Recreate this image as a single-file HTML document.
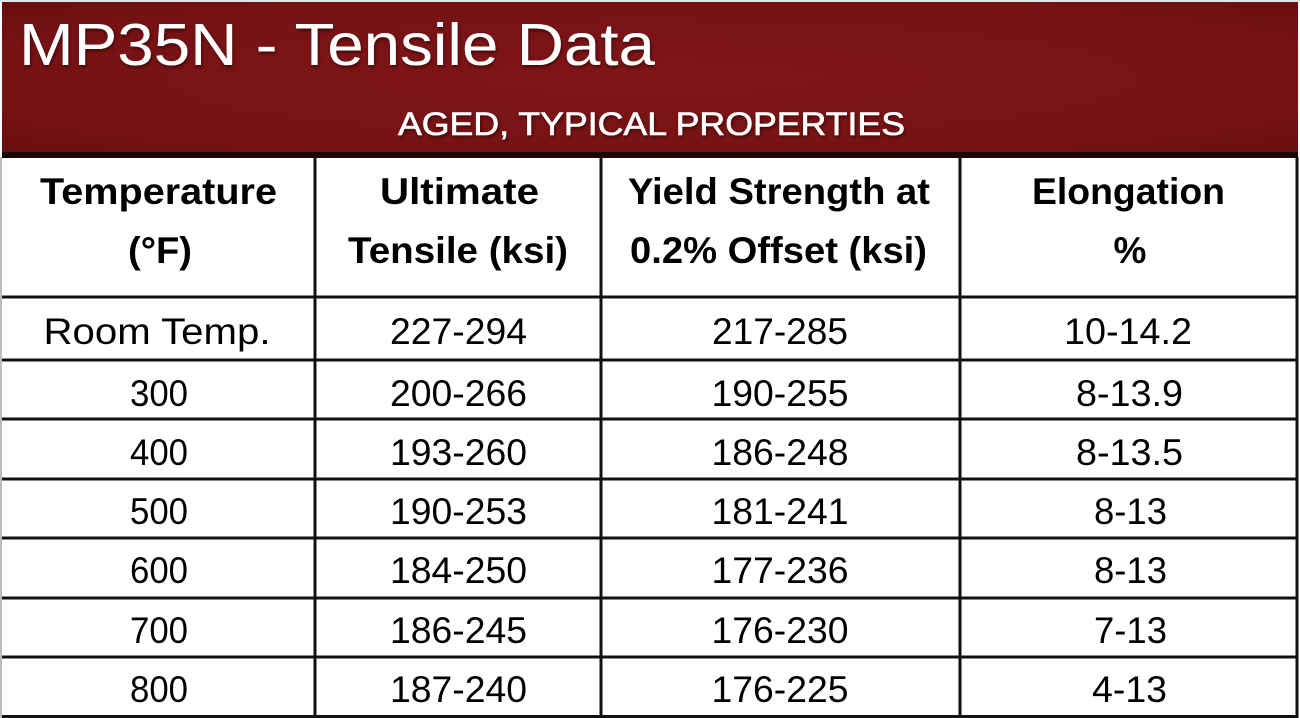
<!DOCTYPE html>
<html><head><meta charset="utf-8"><style>
html,body{margin:0;padding:0;background:#fff;}
svg{display:block;}
text{font-family:"Liberation Sans",sans-serif;}
</style></head><body>
<svg width="1300" height="718" viewBox="0 0 1300 718" xmlns="http://www.w3.org/2000/svg">
<defs>
<radialGradient id="rg" cx="0.5" cy="0.5" r="0.75">
<stop offset="0" stop-color="#7f1518"/>
<stop offset="0.7" stop-color="#761214"/>
<stop offset="1" stop-color="#650d0f"/>
</radialGradient>
<filter id="sh" x="-5%" y="-20%" width="110%" height="140%">
<feDropShadow dx="1" dy="2" stdDeviation="1.5" flood-color="#2a0000" flood-opacity="0.7"/>
</filter>
</defs>
<rect x="0" y="0" width="1300" height="718" fill="#fff"/>
<rect x="0" y="0" width="1300" height="2" fill="#e4e4e4"/>
<rect x="2" y="2" width="1296" height="152" fill="url(#rg)"/>
<rect x="2" y="152" width="1296" height="6" fill="#1a0506"/>
<g filter="url(#sh)">
<text x="337" y="65" fill="#fff" font-size="59" text-anchor="middle" textLength="636" lengthAdjust="spacingAndGlyphs">MP35N - Tensile Data</text>
<text x="651.5" y="135" fill="#fff" stroke="#fff" stroke-width="0.6" font-size="32" text-anchor="middle" textLength="507" lengthAdjust="spacingAndGlyphs">AGED, TYPICAL PROPERTIES</text>
</g>
<g stroke="#111" stroke-width="3">
<line x1="2" y1="297" x2="1298" y2="297"/>
<line x1="2" y1="360" x2="1298" y2="360"/>
<line x1="2" y1="419" x2="1298" y2="419"/>
<line x1="2" y1="479" x2="1298" y2="479"/>
<line x1="2" y1="538" x2="1298" y2="538"/>
<line x1="2" y1="598" x2="1298" y2="598"/>
<line x1="2" y1="657" x2="1298" y2="657"/>
<line x1="2" y1="716.5" x2="1298" y2="716.5"/>
<line x1="315" y1="157" x2="315" y2="718"/>
<line x1="601" y1="157" x2="601" y2="718"/>
<line x1="960" y1="157" x2="960" y2="718"/>
<line x1="1297" y1="157" x2="1297" y2="718"/>
</g>
<line x1="1" y1="157" x2="1" y2="718" stroke="#bbb" stroke-width="2"/>
<g fill="#000" font-size="37" font-weight="bold" text-anchor="middle">
<text x="158.5" y="204" textLength="237" lengthAdjust="spacingAndGlyphs">Temperature</text>
<text x="160" y="263" textLength="64" lengthAdjust="spacingAndGlyphs">(°F)</text>
<text x="459.5" y="204" textLength="159" lengthAdjust="spacingAndGlyphs">Ultimate</text>
<text x="458" y="263" textLength="220" lengthAdjust="spacingAndGlyphs">Tensile (ksi)</text>
<text x="779" y="204" textLength="302" lengthAdjust="spacingAndGlyphs">Yield Strength at</text>
<text x="778.5" y="263" textLength="297" lengthAdjust="spacingAndGlyphs">0.2% Offset (ksi)</text>
<text x="1128.5" y="204" textLength="193" lengthAdjust="spacingAndGlyphs">Elongation</text>
<text x="1130" y="263">%</text>
</g>
<g fill="#000" font-size="37" text-anchor="middle">
<text x="157" y="344" textLength="227" lengthAdjust="spacingAndGlyphs">Room Temp.</text>
<text x="458.5" y="344" textLength="137" lengthAdjust="spacingAndGlyphs">227-294</text>
<text x="780" y="344" textLength="136" lengthAdjust="spacingAndGlyphs">217-285</text>
<text x="1128" y="344" textLength="128" lengthAdjust="spacingAndGlyphs">10-14.2</text>

<text x="159" y="406" textLength="58" lengthAdjust="spacingAndGlyphs">300</text>
<text x="458.5" y="406" textLength="137" lengthAdjust="spacingAndGlyphs">200-266</text>
<text x="780" y="406" textLength="137" lengthAdjust="spacingAndGlyphs">190-255</text>
<text x="1129.5" y="406" textLength="107" lengthAdjust="spacingAndGlyphs">8-13.9</text>

<text x="159" y="465" textLength="58" lengthAdjust="spacingAndGlyphs">400</text>
<text x="458.5" y="465" textLength="137" lengthAdjust="spacingAndGlyphs">193-260</text>
<text x="780" y="465" textLength="137" lengthAdjust="spacingAndGlyphs">186-248</text>
<text x="1129.5" y="465" textLength="107" lengthAdjust="spacingAndGlyphs">8-13.5</text>

<text x="159" y="524" textLength="58" lengthAdjust="spacingAndGlyphs">500</text>
<text x="458.5" y="524" textLength="137" lengthAdjust="spacingAndGlyphs">190-253</text>
<text x="780" y="524" textLength="137" lengthAdjust="spacingAndGlyphs">181-241</text>
<text x="1130.5" y="524" textLength="73" lengthAdjust="spacingAndGlyphs">8-13</text>

<text x="159" y="583" textLength="58" lengthAdjust="spacingAndGlyphs">600</text>
<text x="458.5" y="583" textLength="137" lengthAdjust="spacingAndGlyphs">184-250</text>
<text x="780" y="583" textLength="137" lengthAdjust="spacingAndGlyphs">177-236</text>
<text x="1130.5" y="583" textLength="73" lengthAdjust="spacingAndGlyphs">8-13</text>

<text x="159" y="643" textLength="58" lengthAdjust="spacingAndGlyphs">700</text>
<text x="458.5" y="643" textLength="137" lengthAdjust="spacingAndGlyphs">186-245</text>
<text x="780" y="643" textLength="137" lengthAdjust="spacingAndGlyphs">176-230</text>
<text x="1130.5" y="643" textLength="73" lengthAdjust="spacingAndGlyphs">7-13</text>

<text x="159" y="702" textLength="58" lengthAdjust="spacingAndGlyphs">800</text>
<text x="458.5" y="702" textLength="137" lengthAdjust="spacingAndGlyphs">187-240</text>
<text x="780" y="702" textLength="137" lengthAdjust="spacingAndGlyphs">176-225</text>
<text x="1129.5" y="702" textLength="75" lengthAdjust="spacingAndGlyphs">4-13</text>
</g>
</svg>
</body></html>
